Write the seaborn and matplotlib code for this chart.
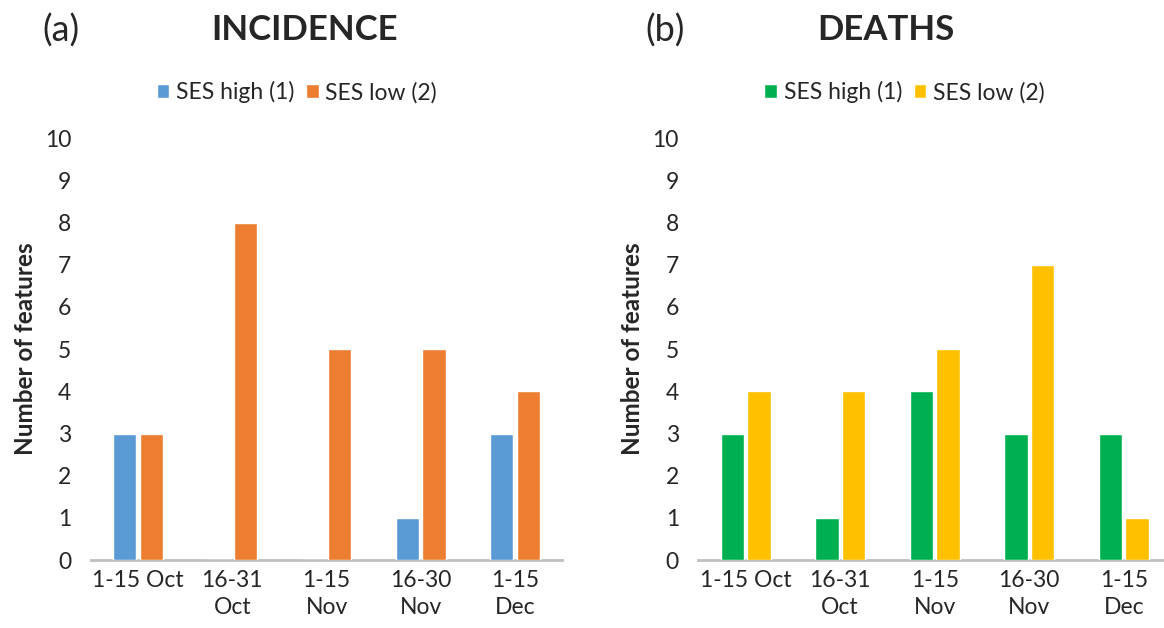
import pandas as pd
import matplotlib.pyplot as plt
import seaborn as sns

# Data
PERIODS = ["1-15 Oct", "16-31\nOct", "1-15\nNov", "16-30\nNov", "1-15\nDec"]
GROUPS = ["SES high (1)", "SES low (2)"]
INC_HIGH = [3, 0, 0, 1, 3]
INC_LOW = [3, 8, 5, 5, 4]
DEATH_HIGH = [3, 1, 4, 3, 3]
DEATH_LOW = [4, 4, 5, 7, 1]

INC_COLORS = ["#5B9BD5", "#ED7D31"]
DEATH_COLORS = ["#00B050", "#FFC000"]


def long_df(high, low):
    return pd.DataFrame({
        "period": PERIODS * 2,
        "group": [GROUPS[0]] * len(PERIODS) + [GROUPS[1]] * len(PERIODS),
        "value": high + low,
    })


sns.set_theme(style="white")
plt.rcParams["font.family"] = ["Lato", "DejaVu Sans"]

fig = plt.figure(figsize=(11.64, 6.28), dpi=100)
ax1 = fig.add_axes([0.078, 0.108, 0.405, 0.672])
ax2 = fig.add_axes([0.600, 0.108, 0.406, 0.672])

panels = [
    (ax1, long_df(INC_HIGH, INC_LOW), INC_COLORS, "(a)", "INCIDENCE", 0.052, 0.262, 0.255),
    (ax2, long_df(DEATH_HIGH, DEATH_LOW), DEATH_COLORS, "(b)", "DEATHS", 0.571, 0.761, 0.777),
]

for ax, df, colors, tag, title, tag_x, title_x, leg_x in panels:
    sns.barplot(data=df, x="period", y="value", hue="group", palette=colors,
                width=0.56, gap=0.12, ax=ax, saturation=1)
    ax.set_ylim(0, 10)
    ax.set_yticks(range(0, 11))
    ax.set_xlim(-0.5, len(PERIODS) - 0.5)
    ax.set_xlabel("")
    ax.set_ylabel("Number of features", fontsize=17.5, fontweight="bold", labelpad=6)
    ax.tick_params(axis="both", length=0, labelsize=16.5, pad=7)
    ax.tick_params(axis="y", pad=14)
    for lbl in ax.get_xticklabels():
        lbl.set_linespacing(1.35)
    for side in ["top", "right", "left"]:
        ax.spines[side].set_visible(False)
    ax.spines["bottom"].set_color("#BFBFBF")
    ax.spines["bottom"].set_linewidth(2)
    ax.spines["bottom"].set_zorder(0)

    handles, labels = ax.get_legend_handles_labels()
    ax.get_legend().remove()
    fig.legend(handles, labels, loc="center", bbox_to_anchor=(leg_x, 0.853), ncol=2,
               frameon=False, fontsize=16.5, handlelength=0.55, handleheight=0.55,
               handletextpad=0.3, columnspacing=0.5)

    fig.text(tag_x, 0.952, tag, fontsize=26, ha="center", va="center")
    fig.text(title_x, 0.952, title, fontsize=25, fontweight="bold", ha="center", va="center")

plt.savefig("out.png", dpi=100)
